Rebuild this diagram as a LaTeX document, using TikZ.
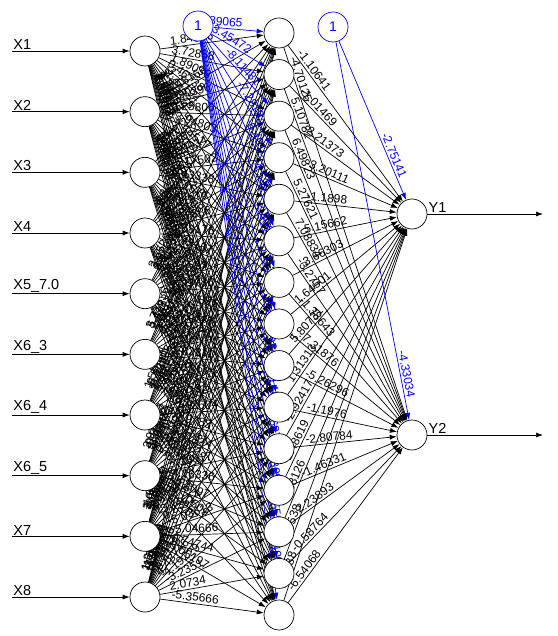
\documentclass[tikz,border=0pt]{standalone}
\usepackage{fontspec}
\setmainfont{Liberation Sans}
\usetikzlibrary{arrows.meta,calc}

\pgfdeclarelayer{back}
\pgfsetlayers{back,main}

\tikzset{
  neuron/.style={circle, draw, fill=white, minimum size=30pt, inner sep=0pt, line width=0.7pt},
  bias/.style={neuron, draw=blue, text=blue, font=\fontsize{14}{14}\selectfont},
  axon/.style={line width=0.7pt, -{Latex[length=7pt,width=5pt]}},
  weight/.style={sloped, inner sep=2pt, font=\fontsize{12}{12}\selectfont},
  io/.style={inner sep=1pt, font=\fontsize{14.5}{14.5}\selectfont},
}
\pgfkeys{/pgf/number format/.cd, fixed, precision=5, assume math mode=true}

\begin{document}
\begin{tikzpicture}[x=1pt, y=-1pt]
\useasboundingbox (0,0) rectangle (557,636);

% input layer
\foreach \lab [count=\i] in {X1,X2,X3,X4,X5\_7.0,X6\_3,X6\_4,X6\_5,X7,X8} {
  \node[neuron] (I\i) at (145, {51+60.67*(\i-1)}) {};
  \coordinate (x\i) at (12, {51+60.67*(\i-1)});
  \draw[axon] (x\i) node[io, anchor=south west] (lx\i) {\lab} -- (I\i);
}

% hidden layer
\foreach \j in {1,...,15}
  \node[neuron] (H\j) at (279, {33+41.57*(\j-1)}) {};

% output layer
\node[neuron] (O1) at (412,214) {};
\node[neuron] (O2) at (412,435) {};
\coordinate (y1) at (543,214);
\coordinate (y2) at (543,435);
\draw[axon] (O1) -- (y1) node[io, pos=0, anchor=south west] (ly1) {Y1};
\draw[axon] (O2) -- (y2) node[io, pos=0, anchor=south west] (ly2) {Y2};

% intercepts
\node[bias] (B1) at (198,26) {1};
\node[bias] (B2) at (333,27) {1};

\begin{pgfonlayer}{back}
\pgfmathsetseed{4242}
\foreach \i in {1,...,10}
  \foreach \j in {1,...,15} {
    \pgfmathsetmacro\w{6*rand}
    \draw[axon] (I\i) -- (H\j);
    \path ($(I\i)!24pt!(H\j)$) -- (H\j) node[weight, pos=0, anchor=south west] {\pgfmathprintnumber{\w}};
  }

\foreach \wa/\wb [count=\j] in {-1.10641/-4.70125, -1.01469/5.10782, -2.21373/6.49823,
    -3.20111/5.27621, -1.1898/7.08834, 5.15662/-3.2717, -3.66303/-1.38643,
    1.64501/7.31876, 5.80731/-5.26296, 1.31313/-1.1976, -2.92417/-2.80784,
    -1.48619/-1.46331, -3.38126/2.23893, 7.75538/-0.58764, 2.3788/-6.54068} {
  \draw[axon] (H\j) -- (O1);
  \draw[axon] (H\j) -- (O2);
  \path ($(H\j)!25pt!(O1)$) -- (O1) node[weight, pos=0, anchor=south west] {\wa};
  \path ($(H\j)!25pt!(O2)$) -- (O2) node[weight, pos=0, anchor=south west] {\wb};
}

\foreach \w [count=\j] in {-2.89065, -3.45472, -8.11481, -7.28193, -6.40163,
    -4.53966, -2.86034, 5.11317, 1.16262, -0.92438, 3.14884, -2.68758,
    4.30992, -1.55974, -5.40607} {
  \draw[axon, blue] (B1) -- (H\j);
  \path (B1) -- ($(H\j)!35pt!(B1)$) node[weight, blue, pos=1, anchor=south east] {\w};
}

\draw[axon, blue] (B2) -- (O1);
\draw[axon, blue] (B2) -- (O2);
\path (B2) -- ($(O1)!35pt!(B2)$) node[weight, blue, pos=1, anchor=south east] {-2.75141};
\path (B2) -- ($(O2)!35pt!(B2)$) node[weight, blue, pos=1, anchor=south east] {-4.33034};
\end{pgfonlayer}
\end{tikzpicture}
\end{document}
